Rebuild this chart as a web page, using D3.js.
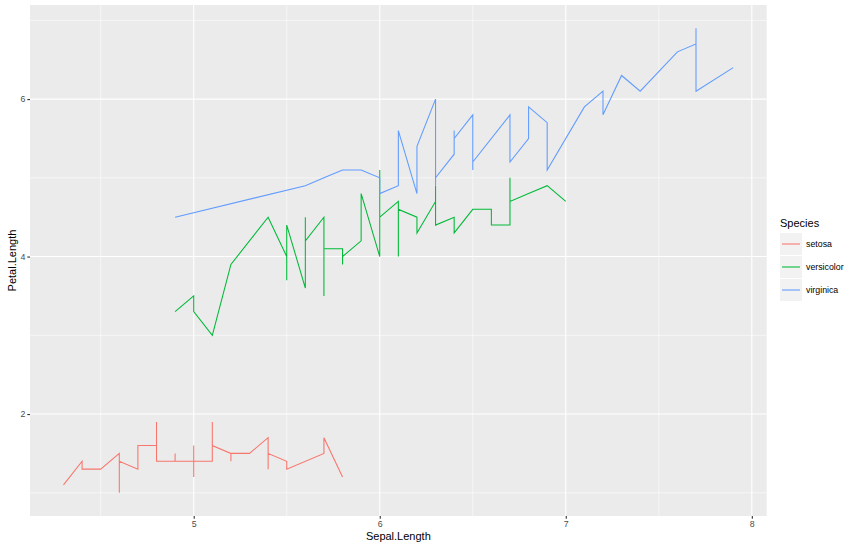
<!DOCTYPE html>
<html><head><meta charset="utf-8">
<script src="https://cdn.jsdelivr.net/npm/d3@7"></script>
<style>body{margin:0;background:#fff}text{font-family:"Liberation Sans",Arial,sans-serif}</style>
</head><body><svg id="c" width="861" height="548"></svg>
<script>
const species = ["setosa","versicolor","virginica"];
const colors = ["#F8766D","#00BA38","#619CFF"];
const sepalLength = [
5.1,4.9,4.7,4.6,5.0,5.4,4.6,5.0,4.4,4.9,5.4,4.8,4.8,4.3,5.8,5.7,5.4,5.1,5.7,5.1,5.4,5.1,4.6,5.1,4.8,5.0,5.0,5.2,5.2,4.7,4.8,5.4,5.2,5.5,4.9,5.0,5.5,4.9,4.4,5.1,5.0,4.5,4.4,5.0,5.1,4.8,5.1,4.6,5.3,5.0,
7.0,6.4,6.9,5.5,6.5,5.7,6.3,4.9,6.6,5.2,5.0,5.9,6.0,6.1,5.6,6.7,5.6,5.8,6.2,5.6,5.9,6.1,6.3,6.1,6.4,6.6,6.8,6.7,6.0,5.7,5.5,5.5,5.8,6.0,5.4,6.0,6.7,6.3,5.6,5.5,5.5,6.1,5.8,5.0,5.6,5.7,5.7,6.2,5.1,5.7,
6.3,5.8,7.1,6.3,6.5,7.6,4.9,7.3,6.7,7.2,6.5,6.4,6.8,5.7,5.8,6.4,6.5,7.7,7.7,6.0,6.9,5.6,7.7,6.3,6.7,7.2,6.2,6.1,6.4,7.2,7.4,7.9,6.4,6.3,6.1,7.7,6.3,6.4,6.0,6.9,6.7,6.9,5.8,6.8,6.7,6.7,6.3,6.5,6.2,5.9];
const petalLength = [
1.4,1.4,1.3,1.5,1.4,1.7,1.4,1.5,1.4,1.5,1.5,1.6,1.4,1.1,1.2,1.5,1.3,1.4,1.7,1.5,1.7,1.5,1.0,1.7,1.9,1.6,1.6,1.5,1.4,1.6,1.6,1.5,1.5,1.4,1.5,1.2,1.3,1.4,1.3,1.5,1.3,1.3,1.3,1.6,1.9,1.4,1.6,1.4,1.5,1.4,
4.7,4.5,4.9,4.0,4.6,4.5,4.7,3.3,4.6,3.9,3.5,4.2,4.0,4.7,3.6,4.4,4.5,4.1,4.5,3.9,4.8,4.0,4.9,4.7,4.3,4.4,4.8,5.0,4.5,3.5,3.8,3.7,3.9,5.1,4.5,4.5,4.7,4.4,4.1,4.0,4.4,4.6,4.0,3.3,4.2,4.2,4.2,4.3,3.0,4.1,
6.0,5.1,5.9,5.6,5.8,6.6,4.5,6.3,5.8,6.1,5.1,5.3,5.5,5.0,5.1,5.3,5.5,6.7,6.9,5.0,5.7,4.9,6.7,4.9,5.7,6.0,4.8,4.9,5.6,5.8,6.1,6.4,5.6,5.1,5.6,6.1,5.6,5.5,4.8,5.4,5.6,5.1,5.1,5.9,5.7,5.2,5.0,5.2,5.4,5.1];
const xTicks = [5,6,7,8];
const yTicks = [2,4,6];

const svg = d3.select("#c");
const L=30, R=766.7, T=5, B=516;
const xMin=d3.min(sepalLength), xMax=d3.max(sepalLength);
const yMin=d3.min(petalLength), yMax=d3.max(petalLength);
const xe=(xMax-xMin)*0.05, ye=(yMax-yMin)*0.05;
const x=d3.scaleLinear().domain([xMin-xe,xMax+xe]).range([L,R]);
const y=d3.scaleLinear().domain([yMin-ye,yMax+ye]).range([B,T]);

svg.append("rect").attr("x",L).attr("y",T).attr("width",R-L).attr("height",B-T).attr("fill","#EBEBEB");
const xMinor=[4.5,5.5,6.5,7.5], yMinor=[1,3,5,7];
const g=svg.append("g");
xMinor.forEach(v=>g.append("line").attr("x1",x(v)).attr("x2",x(v)).attr("y1",T).attr("y2",B).attr("stroke","#fff").attr("stroke-width",0.55));
yMinor.forEach(v=>g.append("line").attr("y1",y(v)).attr("y2",y(v)).attr("x1",L).attr("x2",R).attr("stroke","#fff").attr("stroke-width",0.55));
xTicks.forEach(v=>g.append("line").attr("x1",x(v)).attr("x2",x(v)).attr("y1",T).attr("y2",B).attr("stroke","#fff").attr("stroke-width",1.1));
yTicks.forEach(v=>g.append("line").attr("y1",y(v)).attr("y2",y(v)).attr("x1",L).attr("x2",R).attr("stroke","#fff").attr("stroke-width",1.1));

// axes
const xa=svg.append("g").attr("transform",`translate(0,${B})`).call(d3.axisBottom(x).tickValues(xTicks).tickSize(2.7).tickPadding(2).tickFormat(d3.format("d")));
const ya=svg.append("g").attr("transform",`translate(${L},0)`).call(d3.axisLeft(y).tickValues(yTicks).tickSize(2.7).tickPadding(2).tickFormat(d3.format("d")));
[xa,ya].forEach(a=>{a.select(".domain").remove();a.selectAll("line").attr("stroke","#333").attr("stroke-width",1.1);a.selectAll("text").attr("fill","#4D4D4D").style("font-size","8.8px").style("font-family","Liberation Sans, Arial, sans-serif");});

// lines
const line=d3.line().x(d=>x(d[0])).y(d=>y(d[1]));
species.forEach((s,i)=>{
  const pts=[];
  for(let k=i*50;k<(i+1)*50;k++) pts.push([sepalLength[k],petalLength[k]]);
  pts.sort((a,b)=>a[0]-b[0]);
  svg.append("path").attr("d",line(pts)).attr("fill","none").attr("stroke",colors[i]).attr("stroke-width",1.07);
});

svg.append("text").attr("x",(L+R)/2).attr("y",540).attr("text-anchor","middle").style("font-size","11px").text("Sepal.Length");
svg.append("text").attr("transform",`translate(15.5,${(T+B)/2}) rotate(-90)`).attr("text-anchor","middle").style("font-size","11px").text("Petal.Length");

// legend
svg.append("text").attr("x",780).attr("y",227).style("font-size","11px").text("Species");
species.forEach((s,i)=>{
  const cy=244+i*23;
  svg.append("rect").attr("x",780).attr("y",cy-11).attr("width",22).attr("height",22).attr("fill","#F2F2F2");
  svg.append("line").attr("x1",782).attr("x2",800).attr("y1",cy).attr("y2",cy).attr("stroke",colors[i]).attr("stroke-width",1.07);
  svg.append("text").attr("x",806).attr("y",cy+3.2).style("font-size","8.8px").text(s);
});
</script></body></html>
